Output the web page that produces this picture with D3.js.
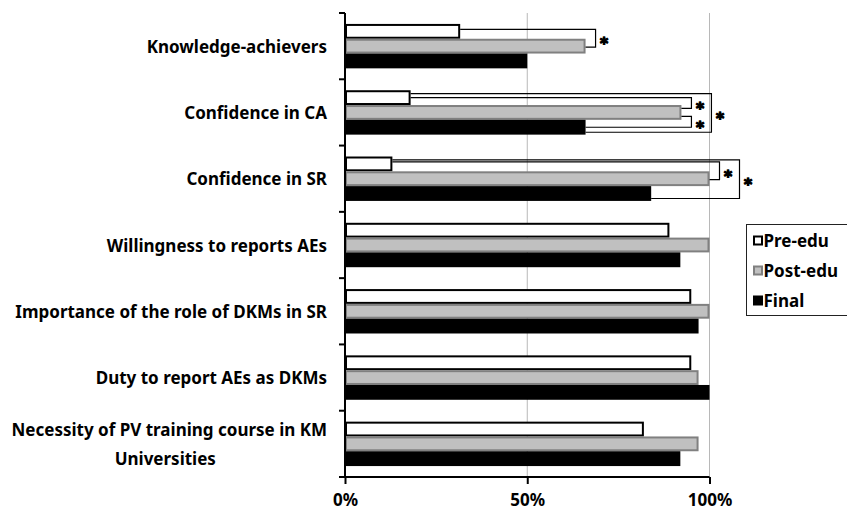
<!DOCTYPE html>
<html>
<head>
<meta charset="utf-8">
<script src="https://cdn.jsdelivr.net/npm/d3@7/dist/d3.min.js"></script>
<style>
  html, body { margin: 0; padding: 0; background: #fff; overflow: hidden; }
  svg { display: block; font-family: "Noto Sans", "Open Sans", sans-serif; font-weight: bold; }
</style>
</head>
<body>
<svg id="chart" width="847" height="513"></svg>
<script>
// Survey items (top to bottom); the last one wraps onto two lines
const categories = [
  "Knowledge-achievers",
  "Confidence in CA",
  "Confidence in SR",
  "Willingness to reports AEs",
  "Importance of the role of DKMs in SR",
  "Duty to report AEs as DKMs",
  "Necessity of PV training course in KM Universities"
];
const categoryLines = [
  ["Knowledge-achievers"],
  ["Confidence in CA"],
  ["Confidence in SR"],
  ["Willingness to reports AEs"],
  ["Importance of the role of DKMs in SR"],
  ["Duty to report AEs as DKMs"],
  ["Necessity of PV training course in KM", "Universities"]
];
const seriesNames = ["Pre-edu", "Post-edu", "Final"];

// Percentages per series, in category order
const preEdu  = [31.6, 18, 13, 89, 95, 95, 82];
const postEdu = [66, 92.3, 100, 100, 100, 97, 97];
const finalV  = [50, 66, 84, 92, 97, 100, 92];

const xTicks = [0, 50, 100];
const xTickLabels = ["0%", "50%", "100%"];

// Significant differences: [category index, series a, series b, nesting level]
const significance = [
  [0, 0, 1, 1],
  [1, 0, 1, 1],
  [1, 1, 2, 1],
  [1, 0, 2, 2],
  [2, 0, 1, 1],
  [2, 0, 2, 2]
];

const seriesValues = [preEdu, postEdu, finalV];
const seriesStyle = [
  { fill: "#ffffff", stroke: "#000000", sw: 2 },
  { fill: "#c0c0c0", stroke: "#808080", sw: 2 },
  { fill: "#000000", stroke: "#000000", sw: 0 }
];

const FS = 17;
const svg = d3.select("#chart");
const plot = { left: 345, right: 709.5, top: 13, bottom: 477 };

const x = d3.scaleLinear().domain([0, 100]).range([plot.left, plot.right]);
const y = d3.scaleBand().domain(categories).range([plot.top, plot.bottom])
  .paddingInner(0.33).paddingOuter(0.165);
const ySub = d3.scaleBand().domain(seriesNames).range([0, y.bandwidth()]);

// Vertical gridlines
svg.append("g").selectAll("line").data(xTicks.filter(d => d > 0)).join("line")
  .attr("x1", d => x(d)).attr("x2", d => x(d))
  .attr("y1", plot.top).attr("y2", plot.bottom)
  .attr("stroke", "#b8b8b8").attr("stroke-width", 1);

// Bars
const rows = svg.append("g").selectAll("g").data(categories).join("g")
  .attr("transform", d => `translate(0,${y(d)})`);
rows.each(function(cat, ci) {
  d3.select(this).selectAll("rect").data(seriesNames).join("rect")
    .each(function(s, si) {
      const st = seriesStyle[si];
      const v = seriesValues[si][ci];
      const h = ySub.bandwidth();
      d3.select(this)
        .attr("x", x(0) + st.sw / 2)
        .attr("y", ySub(s) + st.sw / 2)
        .attr("width", Math.max(0, x(v) - x(0) - st.sw))
        .attr("height", h - st.sw)
        .attr("fill", st.fill)
        .attr("stroke", st.sw ? st.stroke : "none")
        .attr("stroke-width", st.sw);
    });
});

// Significance brackets with an asterisk beside each
const barCenter = (ci, si) => y(categories[ci]) + ySub(seriesNames[si]) + ySub.bandwidth() / 2;
const bracketG = svg.append("g");
significance.forEach(([ci, a, b, level]) => {
  const va = seriesValues[a][ci], vb = seriesValues[b][ci];
  const catMax = d3.max(seriesValues, s => s[ci]);
  let bx, ya, yb;
  if (level === 1) {
    bx = x(Math.max(va, vb)) + 10;
    const dual = significance.filter(s => s[0] === ci && s[3] === 1).length > 1;
    ya = barCenter(ci, a) + (dual && a === 1 ? 4 : 0);
    yb = barCenter(ci, b) + (dual && b === 1 ? -4 : 0);
    if (!dual) { ya -= 2; yb += 1; }
  } else {
    bx = x(catMax) + 10 + 20;
    ya = barCenter(ci, a) - 4;
    yb = barCenter(ci, b) + 5;
  }
  bracketG.append("path")
    .attr("d", `M${x(va)},${ya}H${bx}V${yb}H${x(vb)}`)
    .attr("fill", "none").attr("stroke", "#000").attr("stroke-width", 1.2);
  bracketG.append("text")
    .attr("x", bx + 8.5).attr("y", (ya + yb) / 2 + 11)
    .attr("text-anchor", "middle")
    .attr("font-family", "DejaVu Sans, sans-serif")
    .attr("font-weight", "bold")
    .attr("font-size", 15.5)
    .attr("fill", "#000").attr("stroke", "#000").attr("stroke-width", 1.3)
    .attr("stroke-linejoin", "round")
    .text("*");
});

// Y axis
const yAxis = svg.append("g");
yAxis.append("line")
  .attr("x1", plot.left).attr("x2", plot.left)
  .attr("y1", plot.top).attr("y2", plot.bottom)
  .attr("stroke", "#000").attr("stroke-width", 2);
const yTickPos = categories.map(c => y(c) - y.step() * y.paddingInner() / 2);
yTickPos.push(plot.bottom);
yAxis.selectAll("line.tick").data(yTickPos).join("line").attr("class", "tick")
  .attr("x1", plot.left - 6).attr("x2", plot.left)
  .attr("y1", d => d).attr("y2", d => d)
  .attr("stroke", "#000").attr("stroke-width", 2);

// Category labels
const labelX = 327;
categories.forEach((c, i) => {
  const lines = categoryLines[i];
  const cy = y(c) + y.bandwidth() / 2;
  const lh = 28.6;
  const t = svg.append("text").attr("font-size", FS).attr("fill", "#000");
  if (lines.length === 1) {
    t.attr("x", labelX).attr("y", cy + 6.5).attr("text-anchor", "end").text(lines[0]);
  } else {
    t.attr("x", labelX).attr("y", cy - lh / 2 + 6.5).attr("text-anchor", "end").text(lines[0]);
    const w = t.node().getComputedTextLength();
    svg.append("text").attr("font-size", FS).attr("fill", "#000")
      .attr("x", labelX - w / 2 - 4).attr("y", cy + lh / 2 + 6.5)
      .attr("text-anchor", "middle").text(lines[1]);
  }
});

// X axis
const xAxis = svg.append("g").attr("transform", `translate(0,${plot.bottom})`)
  .call(d3.axisBottom(x).tickValues(xTicks).tickFormat((d, i) => xTickLabels[i])
    .tickSize(7).tickPadding(10));
xAxis.select(".domain").attr("stroke", "#000").attr("stroke-width", 2)
  .attr("d", `M${plot.left},0H${plot.right}`);
xAxis.selectAll(".tick line").attr("stroke", "#000").attr("stroke-width", 2);
xAxis.selectAll(".tick text").attr("font-size", FS).attr("font-weight", "bold")
  .attr("font-family", "Noto Sans, sans-serif").attr("fill", "#000");

// Legend
const lg = svg.append("g").attr("transform", "translate(746.5,224.5)");
lg.append("rect").attr("width", 140).attr("height", 91)
  .attr("fill", "#fff").attr("stroke", "#222").attr("stroke-width", 1);
seriesNames.forEach((s, i) => {
  const cy = 16 + i * 30;
  const st = seriesStyle[i];
  lg.append("rect").attr("x", 7.5).attr("y", cy - 4).attr("width", 8).attr("height", 8)
    .attr("fill", st.fill).attr("stroke", st.sw ? st.stroke : "#000").attr("stroke-width", 2);
  lg.append("text").attr("x", 17).attr("y", cy + 6).attr("font-size", FS).text(s);
});
</script>
</body>
</html>
